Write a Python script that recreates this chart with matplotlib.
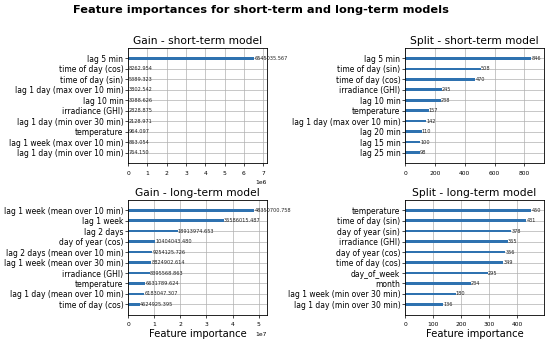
import numpy as np
import matplotlib
matplotlib.use('Agg')
import matplotlib.pyplot as plt
from matplotlib.ticker import MultipleLocator

# gain - short-term
gain_short_feat = ['lag 5 min', 'time of day (cos)', 'time of day (sin)',
                   'lag 1 day (max over 10 min)', 'lag 10 min', 'irradiance (GHI)',
                   'lag 1 day (min over 30 min)', 'temperature',
                   'lag 1 week (max over 10 min)', 'lag 1 day (min over 10 min)']
gain_short_val = [6545035.567, 8262.954, 5389.323, 3802.542, 3088.626,
                  2828.875, 2128.971, 964.097, 863.054, 764.150]

# split - short-term
split_short_feat = ['lag 5 min', 'time of day (sin)', 'time of day (cos)',
                    'irradiance (GHI)', 'lag 10 min', 'temperature',
                    'lag 1 day (max over 10 min)', 'lag 20 min', 'lag 15 min', 'lag 25 min']
split_short_val = [846, 508, 470, 245, 238, 157, 142, 110, 100, 98]

# gain - long-term
gain_long_feat = ['lag 1 week (mean over 10 min)', 'lag 1 week', 'lag 2 days',
                  'day of year (cos)', 'lag 2 days (mean over 10 min)',
                  'lag 1 week (mean over 30 min)', 'irradiance (GHI)', 'temperature',
                  'lag 1 day (mean over 10 min)', 'time of day (cos)']
gain_long_val = [48350700.758, 36586015.487, 18913974.653, 10404043.480, 9254125.726,
                 8824902.614, 8395568.863, 6631789.624, 6183047.307, 4624925.395]

# split - long-term
split_long_feat = ['temperature', 'time of day (sin)', 'day of year (sin)',
                   'irradiance (GHI)', 'day of year (cos)', 'time of day (cos)',
                   'day_of_week', 'month', 'lag 1 week (min over 30 min)',
                   'lag 1 day (min over 30 min)']
split_long_val = [450, 431, 378, 365, 356, 349, 295, 234, 180, 136]


def plot_imp(ax, feats, vals, title, fmt, step, xlabel=None):
    # same as lightgbm plot_importance: smallest at bottom
    feats = feats[::-1]
    vals = vals[::-1]
    ylocs = np.arange(len(vals))
    ax.barh(ylocs, vals, height=0.25, align='center', color='#2f72b0')
    for x, y in zip(vals, ylocs):
        ax.text(x + 1, y, fmt(x), va='center', fontsize=3.6, color='#222222')
    ax.set_yticks(ylocs)
    ax.set_yticklabels(feats, fontsize=5.5)
    ax.set_xlim(0, max(vals) * 1.1)
    ax.set_ylim(-1, len(vals))
    ax.xaxis.set_major_locator(MultipleLocator(step))
    ax.tick_params(axis='x', labelsize=4.3, length=2, width=0.5)
    ax.tick_params(axis='y', length=2, width=0.5, pad=1.5)
    ax.xaxis.get_offset_text().set_fontsize(4.3)
    ax.grid(True, linewidth=0.5)
    ax.set_axisbelow(True)
    for s in ax.spines.values():
        s.set_linewidth(0.6)
    ax.set_title(title, fontsize=7.7, pad=3)
    if xlabel:
        ax.set_xlabel(xlabel, fontsize=7.2, labelpad=1)


fig, axes = plt.subplots(2, 2, figsize=(5.5, 3.4), dpi=100)
plt.subplots_adjust(left=0.233, right=0.989, top=0.859, bottom=0.074,
                    wspace=0.996, hspace=0.32)

f3 = lambda v: '%.3f' % v
fi = lambda v: '%d' % v
plot_imp(axes[0, 0], gain_short_feat, gain_short_val, 'Gain - short-term model', f3, 1e6)
plot_imp(axes[0, 1], split_short_feat, split_short_val, 'Split - short-term model', fi, 200)
plot_imp(axes[1, 0], gain_long_feat, gain_long_val, 'Gain - long-term model', f3, 1e7,
         'Feature importance')
plot_imp(axes[1, 1], split_long_feat, split_long_val, 'Split - long-term model', fi, 100,
         'Feature importance')

fig.suptitle('Feature importances for short-term and long-term models',
             x=0.475, y=0.985, fontsize=8.2, fontweight='bold')

plt.savefig('out.png', dpi=100)
